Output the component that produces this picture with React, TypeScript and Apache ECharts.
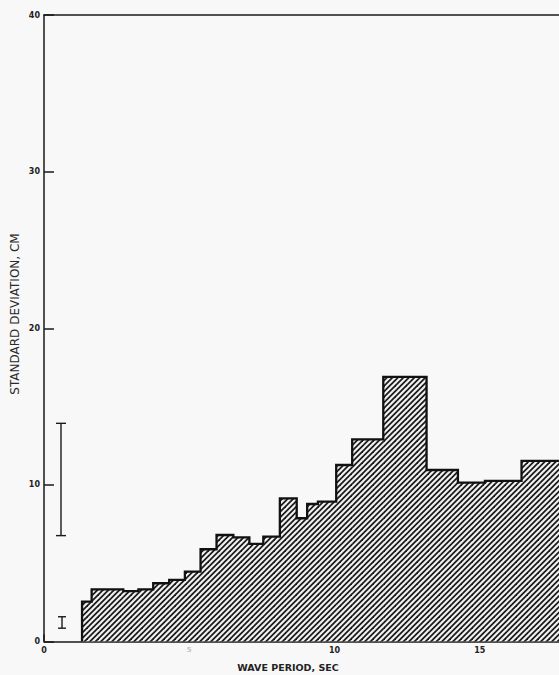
import React, { useEffect, useRef } from "react";
import * as echarts from "echarts";

// Histogram bin edges (wave period, sec) and standard deviation (cm) per bin
const binEdges = [
  1.31, 1.64, 2.73, 3.25, 3.76, 4.31, 4.85, 5.39, 5.94, 6.52, 7.07, 7.55,
  8.12, 8.7, 9.06, 9.43, 10.06, 10.61, 11.68, 13.17, 14.25, 15.18, 16.44, 18.3,
];
const stdDev = [
  2.54, 3.33, 3.22, 3.33, 3.72, 3.93, 4.46, 5.89, 6.8, 6.65, 6.23, 6.7, 9.14,
  7.87, 8.78, 8.93, 11.27, 12.9, 16.9, 10.95, 10.15, 10.25, 11.53,
];
// error bars: [x, low, high]
const errorBarX = [0.585, 0.62];
const errorBarLow = [6.76, 0.85];
const errorBarHigh = [13.93, 1.58];
const errorBarCap = [5, 4];

const xTickLabels = ["0", "5", "10", "15"];
const yTickLabels = ["0", "10", "20", "30", "40"];
const xTitle = "WAVE PERIOD, SEC";
const yTitle = "STANDARD DEVIATION, CM";

const X_MAX = 17.73;

function makeHatch(): HTMLCanvasElement {
  const s = 11;
  const c = document.createElement("canvas");
  c.width = s;
  c.height = s;
  const ctx = c.getContext("2d")!;
  ctx.fillStyle = "#f2f2f2";
  ctx.fillRect(0, 0, s, s);
  ctx.strokeStyle = "#1a1a1a";
  ctx.lineWidth = 1.8;
  for (const cc of [-5.5, 0, 5.5, 11, 16.5, 22, 27.5]) {
    ctx.beginPath();
    ctx.moveTo(cc + 3, -3);
    ctx.lineTo(cc - s - 3, s + 3);
    ctx.stroke();
  }
  return c;
}

export default function App() {
  const ref = useRef<HTMLDivElement>(null);
  useEffect(() => {
    if (!ref.current) return;
    const chart = echarts.init(ref.current, null, { renderer: "svg" });
    const hatch = makeHatch();

    const bins = stdDev.map((v, i) => [binEdges[i], binEdges[i + 1], v]);
    const outline: number[][] = [[binEdges[0], 0]];
    stdDev.forEach((v, i) => {
      outline.push([binEdges[i], v]);
      outline.push([binEdges[i + 1], v]);
    });
    const errs = errorBarX.map((x, i) => [x, errorBarLow[i], errorBarHigh[i], errorBarCap[i]]);

    const font = "DejaVu Sans";
    const axisCol = "#1a1a1a";
    chart.setOption({
      animation: false,
      backgroundColor: "#f8f8f8",
      grid: { left: 44, top: 15, bottom: 33.5, right: 0, show: false },
      xAxis: [
        {
          type: "value",
          min: 0,
          max: X_MAX,
          interval: 5,
          axisLine: { show: true, lineStyle: { color: axisCol, width: 1.5 } },
          axisTick: { show: true, inside: true, length: 7, lineStyle: { color: axisCol, width: 1.5 } },
          splitLine: { show: false },
          axisLabel: {
            margin: 5,
            fontFamily: font,
            fontWeight: "bold",
            fontSize: 8,
            color: "#222",
            showMaxLabel: false,
            formatter: (v: number) => {
              const idx = [0, 5, 10, 15].indexOf(v);
              if (idx < 0) return "";
              return v === 5 ? "{f|" + xTickLabels[idx] + "}" : xTickLabels[idx];
            },
            rich: { f: { color: "#c4c4c4", fontSize: 7, fontFamily: font } },
          },
        },
        {
          type: "value",
          position: "top",
          min: 0,
          max: X_MAX,
          axisLine: { show: true, lineStyle: { color: axisCol, width: 1.5 } },
          axisTick: { show: false },
          axisLabel: { show: false },
          splitLine: { show: false },
        },
      ],
      yAxis: {
        type: "value",
        min: 0,
        max: 40,
        interval: 10,
        axisLine: { show: true, lineStyle: { color: axisCol, width: 1.5 } },
        axisTick: { show: true, inside: true, length: 10, lineStyle: { color: axisCol, width: 1.5 } },
        splitLine: { show: false },
        axisLabel: {
          margin: 4,
          fontFamily: font,
          fontWeight: "bold",
          fontSize: 8,
          color: "#222",
          formatter: (v: number) => {
            const idx = [0, 10, 20, 30, 40].indexOf(v);
            return idx < 0 ? "" : yTickLabels[idx];
          },
        },
      },
      graphic: [
        {
          type: "text",
          x: 288,
          y: 667,
          style: {
            text: xTitle,
            align: "center",
            verticalAlign: "middle",
            fontFamily: font,
            fontWeight: "bold",
            fontSize: 9.5,
            fill: "#222",
          },
        },
        {
          type: "text",
          x: 15,
          y: 314,
          rotation: Math.PI / 2,
          style: {
            text: yTitle,
            align: "center",
            verticalAlign: "middle",
            fontFamily: font,
            fontSize: 12,
            fill: "#2a2a2a",
          },
        },
      ],
      series: [
        {
          type: "custom",
          data: bins,
          clip: true,
          z: 2,
          renderItem: (params: any, api: any) => {
            const x0 = api.value(0);
            const x1 = Math.min(api.value(1), X_MAX);
            const v = api.value(2);
            const p0 = api.coord([x0, v]);
            const p1 = api.coord([x1, 0]);
            return {
              type: "rect",
              shape: { x: p0[0], y: p0[1], width: p1[0] - p0[0] + 0.5, height: p1[1] - p0[1] },
              style: { fill: { image: hatch, repeat: "repeat" }, stroke: null },
            };
          },
        },
        {
          type: "line",
          data: outline,
          z: 3,
          clip: true,
          showSymbol: false,
          symbol: "none",
          lineStyle: { color: "#111", width: 2.3, join: "miter" },
        },
        {
          type: "custom",
          data: errs,
          z: 4,
          renderItem: (params: any, api: any) => {
            const x = api.value(0);
            const lo = api.coord([x, api.value(1)]);
            const hi = api.coord([x, api.value(2)]);
            const w = api.value(3);
            const st = { stroke: "#1a1a1a", lineWidth: 1.4 };
            return {
              type: "group",
              children: [
                { type: "line", shape: { x1: lo[0], y1: lo[1], x2: hi[0], y2: hi[1] }, style: st },
                { type: "line", shape: { x1: lo[0] - w, y1: lo[1], x2: lo[0] + w, y2: lo[1] }, style: st },
                { type: "line", shape: { x1: hi[0] - w, y1: hi[1], x2: hi[0] + w, y2: hi[1] }, style: st },
              ],
            };
          },
        },
      ],
    });
    return () => chart.dispose();
  }, []);
  return (
    <div
      ref={ref}
      style={{ position: "fixed", left: 0, top: 0, width: 559, height: 675, background: "#f8f8f8" }}
    />
  );
}
